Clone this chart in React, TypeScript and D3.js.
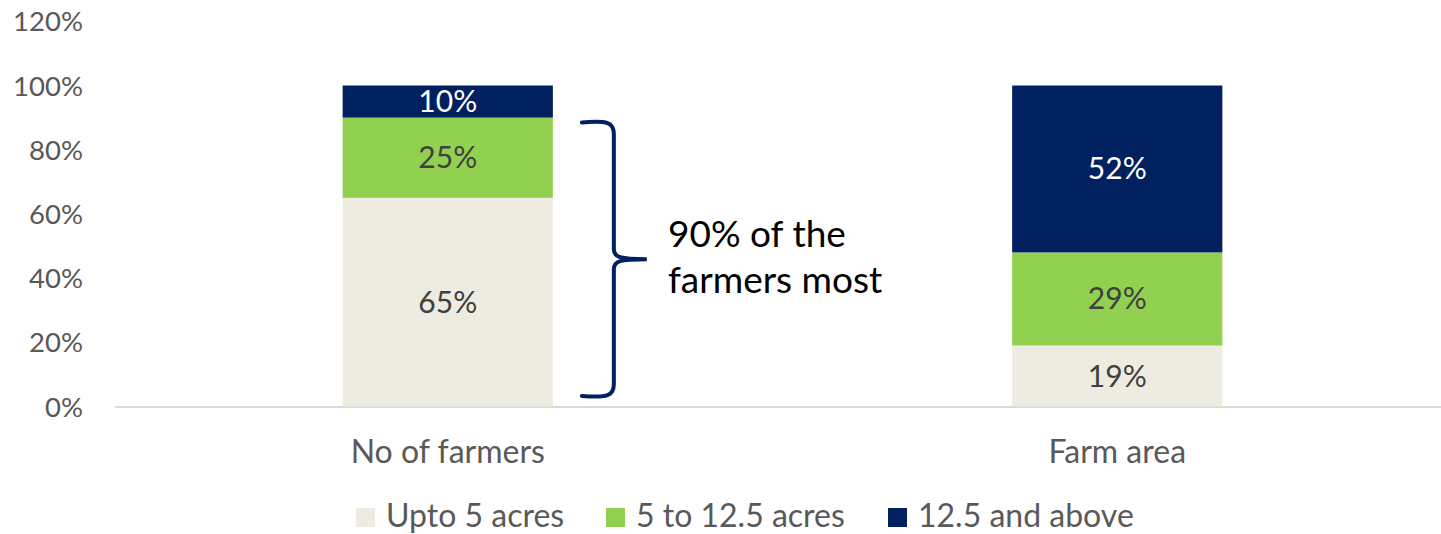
import React from "react";
import * as d3 from "d3";

const categories = ["No of farmers", "Farm area"];
const seriesNames = ["Upto 5 acres", "5 to 12.5 acres", "12.5 and above"];
const upto5 = [65, 19];
const from5to12 = [25, 29];
const above12 = [10, 52];
const yTicks = [0, 20, 40, 60, 80, 100, 120];
const colors = ["#EEEBE0", "#92D050", "#002060"];
const labelColors = ["#404040", "#404040", "#FFFFFF"];
const braceRange = [3.3, 88.5];
const annotationLines = ["90% of the", "farmers most"];

const W = 1441;
const H = 534;
const FONT = "Lato, 'Open Sans', sans-serif";

export default function App() {
  const x = d3
    .scaleBand<string>()
    .domain(categories)
    .range([113, 1452])
    .paddingInner(0.686)
    .paddingOuter(0.343);
  const y = d3.scaleLinear().domain([0, 100]).range([406.5, 85.5]);

  const seriesVals = [upto5, from5to12, above12];
  const rows = categories.map((c, i) => {
    const r: any = { cat: c };
    seriesNames.forEach((s, j) => (r[s] = seriesVals[j][i]));
    return r;
  });
  const stack = d3.stack<any>().keys(seriesNames)(rows);

  const bx = x(categories[0])! + x.bandwidth() + 29;
  const yTop = y(braceRange[1]);
  const yBot = y(braceRange[0]);
  const yMid = (yTop + yBot) / 2;
  const vx = bx + 32;
  const tip = bx + 65;
  const bracePath = `M${bx},${yTop} C${vx - 6},${yTop - 2} ${vx},${yTop} ${vx},${yTop + 12} L${vx},${yMid - 10} C${vx},${yMid - 2} ${vx + 6},${yMid} ${tip},${yMid} C${vx + 6},${yMid} ${vx},${yMid + 2} ${vx},${yMid + 10} L${vx},${yBot - 12} C${vx},${yBot} ${vx - 6},${yBot + 2} ${bx},${yBot}`;

  const legendX = [356, 606, 888];

  return (
    <svg width={W} height={H} style={{ position: "absolute", left: 0, top: 0, background: "#fff" }} fontFamily={FONT}>
      {yTicks.map((t) => (
        <text key={t} x={83} y={y(t) + 10} textAnchor="end" fontSize={27.5} fill="#595959">
          {t}%
        </text>
      ))}
      <line x1={115} x2={W} y1={y(0) + 0.5} y2={y(0) + 0.5} stroke="#D9D9D9" strokeWidth={2} />
      {stack.map((layer, j) => (
        <g key={j}>
          {layer.map((d, i) => (
            <g key={i}>
              <rect
                x={x(categories[i])!}
                width={x.bandwidth()}
                y={y(d[1])}
                height={y(d[0]) - y(d[1])}
                fill={colors[j]}
              />
              <text
                x={x(categories[i])! + x.bandwidth() / 2}
                y={(y(d[0]) + y(d[1])) / 2 + 10.5}
                textAnchor="middle"
                fontSize={30}
                fill={labelColors[j]}
              >
                {d[1] - d[0]}%
              </text>
            </g>
          ))}
        </g>
      ))}
      {categories.map((c) => (
        <text key={c} x={x(c)! + x.bandwidth() / 2} y={463} textAnchor="middle" fontSize={32} fill="#595959">
          {c}
        </text>
      ))}
      <path d={bracePath} fill="none" stroke="#002060" strokeWidth={4} strokeLinecap="round" />
      {annotationLines.map((l, i) => (
        <text key={i} x={668} y={247 + i * 46} fontSize={37} fill="#000">
          {l}
        </text>
      ))}
      {seriesNames.map((s, j) => (
        <g key={s}>
          <rect x={legendX[j]} y={508} width={19} height={19} fill={colors[j]} />
          <text x={legendX[j] + 30} y={527} fontSize={32} fill="#595959">
            {s}
          </text>
        </g>
      ))}
    </svg>
  );
}
